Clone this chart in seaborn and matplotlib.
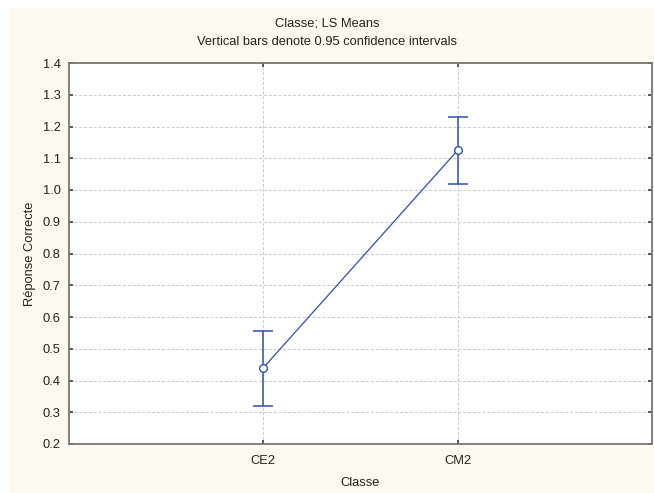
import matplotlib
matplotlib.use("Agg")
import matplotlib.pyplot as plt
import seaborn as sns
import pandas as pd
from matplotlib.patches import Rectangle

# LS means per class, with 0.95 confidence limits
classes = ["CE2", "CM2"]
means = [0.44, 1.125]
ci_low = [0.32, 1.02]
ci_high = [0.557, 1.23]
y_ticks = [0.2, 0.3, 0.4, 0.5, 0.6, 0.7, 0.8, 0.9, 1.0, 1.1, 1.2, 1.3, 1.4]

df = pd.DataFrame({"Classe": classes, "mean": means, "lo": ci_low, "hi": ci_high})

sns.set_theme(style="white")
plt.rcParams["font.family"] = ["Liberation Sans", "DejaVu Sans"]

blue = "#2F4FA6"
cream = "#FDF9F0"
fs = 9.3

fig = plt.figure(figsize=(6.54, 4.93), dpi=100)
fig.patch.set_facecolor(cream)
# thin white strips on the left and top
fig.patches.append(Rectangle((0, 0), 10 / 654, 1, transform=fig.transFigure,
                             facecolor="white", edgecolor="none", zorder=-1))
fig.patches.append(Rectangle((0, 1 - 8 / 493), 1, 8 / 493, transform=fig.transFigure,
                             facecolor="white", edgecolor="none", zorder=-1))

ax = fig.add_axes([69 / 654, 1 - 444 / 493, (652 - 69) / 654, (444 - 63) / 493])
ax.set_facecolor("white")

x = list(range(len(classes)))
ax.errorbar(x, df["mean"], yerr=[df["mean"] - df["lo"], df["hi"] - df["mean"]],
            fmt="none", ecolor=blue, elinewidth=1.1, capsize=7.5, capthick=1.1, zorder=3)
sns.lineplot(x=x, y=df["mean"], ax=ax, color=blue, linewidth=0.9,
             marker="o", markersize=5.5, markerfacecolor="white",
             markeredgecolor=blue, markeredgewidth=1.0, zorder=4)

ax.set_xlim(-1, 2)
ax.set_ylim(0.2, 1.4)
ax.set_xticks(x)
ax.set_xticklabels(classes)
ax.set_yticks(y_ticks)
ax.set_yticklabels([f"{v:.1f}" for v in y_ticks])

ax.grid(True, color="#c8c8c8", linestyle=(0, (3, 2)), linewidth=0.7)
ax.set_axisbelow(True)
for s in ax.spines.values():
    s.set_color("#777777")
    s.set_linewidth(1.3)

ax.tick_params(axis="both", labelsize=fs, color="#444444", length=3,
               direction="in", labelcolor="#222222",
               top=True, right=True, bottom=True, left=True)
ax.tick_params(axis="x", pad=8)
ax.tick_params(axis="y", pad=6)

ax.set_xlabel("Classe", fontsize=fs, color="#222222", labelpad=7)
ax.set_ylabel("Réponse Correcte", fontsize=fs, color="#222222", labelpad=5)

fig.text(0.5, 1 - 24 / 493, "Classe; LS Means", ha="center", va="center",
         fontsize=fs, color="#222222")
fig.text(0.5, 1 - 42 / 493, "Vertical bars denote 0.95 confidence intervals",
         ha="center", va="center", fontsize=fs, color="#222222")

fig.savefig("out.png", dpi=100, facecolor=fig.get_facecolor())
